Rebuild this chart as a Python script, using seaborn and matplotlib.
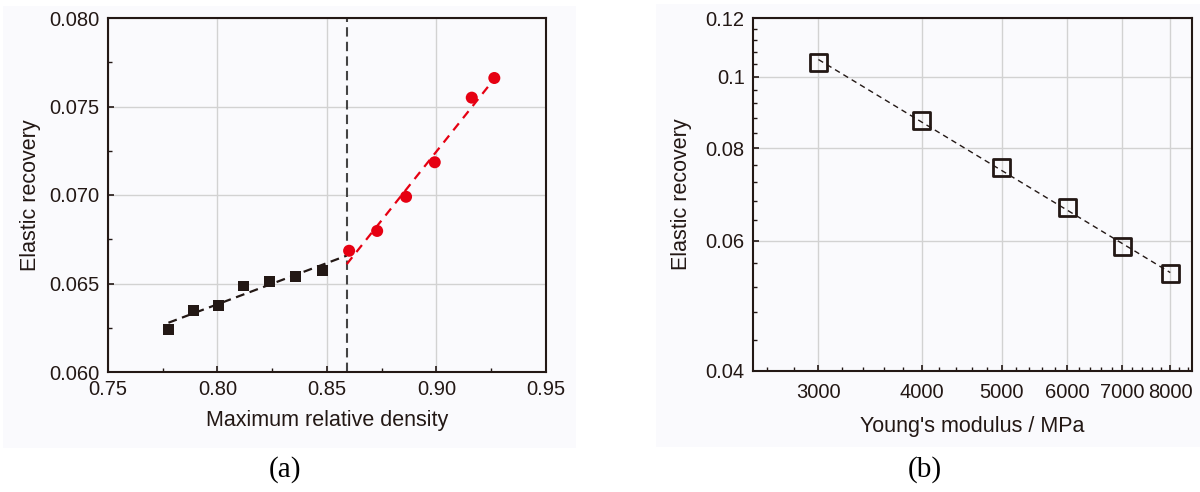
import numpy as np
import pandas as pd
import matplotlib
matplotlib.use("Agg")
import matplotlib.pyplot as plt
from matplotlib.patches import Rectangle
from matplotlib.ticker import FixedLocator, FixedFormatter, MultipleLocator, NullFormatter
import seaborn as sns

# ---------------- data ----------------
# panel (a)
density_low = [0.7776, 0.7889, 0.8003, 0.8118, 0.8237, 0.8355, 0.8479]
recovery_low = [0.06241, 0.06345, 0.06377, 0.06486, 0.06512, 0.06542, 0.06575]
density_high = [0.8601, 0.8729, 0.8861, 0.8992, 0.9161, 0.9264]
recovery_high = [0.06685, 0.06797, 0.06990, 0.07185, 0.07550, 0.07661]
transition_density = 0.859

# panel (b)
youngs_modulus = [3000, 4000, 5000, 6000, 7000, 8000]
recovery_b = [0.1045, 0.0873, 0.0753, 0.0665, 0.0590, 0.0541]
b_yticks = [0.04, 0.06, 0.08, 0.1, 0.12]
b_yticklabels = ["0.04", "0.06", "0.08", "0.1", "0.12"]
b_xticks = [3000, 4000, 5000, 6000, 7000, 8000]
b_xticklabels = ["3000", "4000", "5000", "6000", "7000", "8000"]

# ---------------- style ----------------
sns.set_theme(style="ticks")
plt.rcParams["font.family"] = ["Liberation Sans", "DejaVu Sans"]
ink = "#231815"
red = "#e60012"
grid_c = "#d2d2d2"
plt.rcParams.update({
    "axes.edgecolor": ink,
    "axes.linewidth": 1.5,
    "xtick.color": ink,
    "ytick.color": ink,
    "text.color": ink,
    "axes.labelcolor": ink,
    "xtick.direction": "in",
    "ytick.direction": "in",
})

fig = plt.figure(figsize=(12, 4.92), dpi=100)
W, H = 1200, 492

def px_rect(x0, y0, x1, y1):
    return [x0 / W, 1 - y1 / H, (x1 - x0) / W, (y1 - y0) / H]

# panel backgrounds
bg = "#fafafd"
for (x0, y0, x1, y1) in [(3, 6, 576, 448), (656, 4, 1200, 447)]:
    r = px_rect(x0, y0, x1, y1)
    fig.patches.append(Rectangle((r[0], r[1]), r[2], r[3], transform=fig.transFigure,
                                 facecolor=bg, edgecolor="none", zorder=-10))

ax1 = fig.add_axes(px_rect(108, 18, 546, 372))
ax2 = fig.add_axes(px_rect(753, 18, 1192, 371))
for ax in (ax1, ax2):
    ax.set_facecolor(bg)

# ---------------- panel (a) ----------------
df_low = pd.DataFrame({"x": density_low, "y": recovery_low})
df_high = pd.DataFrame({"x": density_high, "y": recovery_high})

k1, b1 = np.polyfit(density_low, recovery_low, 1)
k2, b2 = np.polyfit(density_high, recovery_high, 1)
fit_low = pd.DataFrame({"x": [density_low[0], transition_density]})
fit_low["y"] = k1 * fit_low["x"] + b1
fit_high = pd.DataFrame({"x": [transition_density, density_high[-1]]})
fit_high["y"] = k2 * fit_high["x"] + b2

ax1.grid(True, color=grid_c, linewidth=1.0, zorder=0)
ax1.axvline(transition_density, color="#444444", linewidth=1.5, dashes=(4.5, 2.5), zorder=2)
sns.lineplot(data=fit_low, x="x", y="y", ax=ax1, color=ink, linewidth=1.6,
             zorder=3).lines[-1].set_dashes((4, 2.5))
sns.lineplot(data=fit_high, x="x", y="y", ax=ax1, color=red, linewidth=1.6,
             zorder=3).lines[-1].set_dashes((4, 3))
sns.scatterplot(data=df_low, x="x", y="y", ax=ax1, marker="s", s=62, color=ink,
                edgecolor="none", zorder=4)
sns.scatterplot(data=df_high, x="x", y="y", ax=ax1, marker="o", s=75, color=red,
                edgecolor="none", zorder=4)

ax1.set_xlim(0.75, 0.95)
ax1.set_ylim(0.060, 0.080)
ax1.xaxis.set_major_locator(MultipleLocator(0.05))
ax1.xaxis.set_minor_locator(MultipleLocator(0.025))
ax1.yaxis.set_major_locator(MultipleLocator(0.005))
ax1.yaxis.set_minor_locator(MultipleLocator(0.0025))
ax1.xaxis.set_major_formatter(plt.FuncFormatter(lambda v, p: f"{v:.2f}"))
ax1.yaxis.set_major_formatter(plt.FuncFormatter(lambda v, p: f"{v:.3f}"))
ax1.tick_params(which="major", length=4.5, width=1.2, labelsize=14.5, pad=6)
ax1.tick_params(which="minor", length=3, width=1.0)
ax1.set_xlabel("Maximum relative density", fontsize=15.5, labelpad=8)
ax1.set_ylabel("Elastic recovery", fontsize=15.5, labelpad=6)

# ---------------- panel (b) ----------------
df_b = pd.DataFrame({"E": youngs_modulus, "R": recovery_b})
kb, bb = np.polyfit(np.log(youngs_modulus), np.log(recovery_b), 1)
fit_b = pd.DataFrame({"E": np.array([youngs_modulus[0], youngs_modulus[-1]], dtype=float)})
fit_b["R"] = np.exp(bb) * fit_b["E"] ** kb

ax2.set_xscale("log")
ax2.set_yscale("log")
ax2.grid(True, which="major", color=grid_c, linewidth=1.0, zorder=0)
sns.lineplot(data=fit_b, x="E", y="R", ax=ax2, color=ink, linewidth=1.0,
             zorder=3).lines[-1].set_dashes((4, 3))
sns.scatterplot(data=df_b, x="E", y="R", ax=ax2, marker="s", s=150,
                facecolor="none", edgecolor=ink, linewidth=2.0, zorder=4)

ax2.set_xlim(2500, 8500)
ax2.set_ylim(0.04, 0.12)
ax2.xaxis.set_major_locator(FixedLocator(b_xticks))
ax2.xaxis.set_major_formatter(FixedFormatter(b_xticklabels))
ax2.xaxis.set_minor_locator(FixedLocator(list(range(2600, 8500, 200))))
ax2.xaxis.set_minor_formatter(NullFormatter())
ax2.yaxis.set_major_locator(FixedLocator(b_yticks))
ax2.yaxis.set_major_formatter(FixedFormatter(b_yticklabels))
ax2.yaxis.set_minor_locator(FixedLocator(list(np.arange(0.044, 0.1199, 0.004))))
ax2.yaxis.set_minor_formatter(NullFormatter())
ax2.tick_params(which="major", length=4.5, width=1.2, labelsize=14.5, pad=6)
ax2.tick_params(axis="x", which="major", labelsize=14.5, pad=9)
ax2.tick_params(which="minor", length=3, width=1.0)
ax2.set_xlabel("Young's modulus / MPa", fontsize=15.5, labelpad=10)
ax2.set_ylabel("Elastic recovery", fontsize=15.5, labelpad=10)

for ax in (ax1, ax2):
    for s in ax.spines.values():
        s.set_visible(True)
        s.set_color(ink)
        s.set_linewidth(1.5)

serif = ["Liberation Serif", "DejaVu Serif"]
fig.text(285 / W, 1 - 470 / H, "(a)", ha="center", va="center", fontsize=21,
         family=serif, color="black")
fig.text(925 / W, 1 - 470 / H, "(b)", ha="center", va="center", fontsize=21,
         family=serif, color="black")

fig.savefig("out.png", dpi=100, facecolor="white")
